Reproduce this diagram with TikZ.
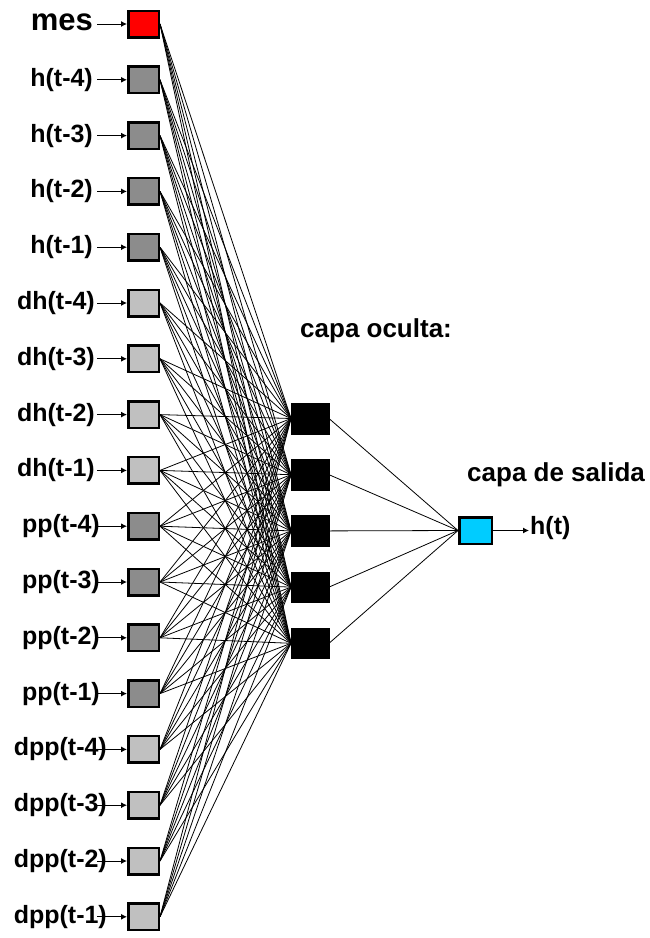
\documentclass[tikz,border=0pt]{standalone}
\usepackage{fontspec}
\setmainfont{Liberation Sans}
\usetikzlibrary{arrows.meta}
\definecolor{dgray}{HTML}{8C8C8C}
\definecolor{lgray}{HTML}{C0C0C0}
\definecolor{outcyan}{HTML}{00CCFF}
\tikzset{
  inbox/.style={draw=black, line width=2.5pt, minimum width=30.5pt, minimum height=26.5pt, inner sep=0pt},
  hidbox/.style={fill=black, draw=black, line width=0.5pt, minimum width=37.5pt, minimum height=30.5pt, inner sep=0pt},
  lab/.style={font=\bfseries\fontsize{25}{25}\selectfont, inner sep=0pt},
  feed/.style={-{Latex[length=6pt,width=6pt]}, line width=1pt},
  wire/.style={line width=0.8pt},
}
\begin{document}
\begin{tikzpicture}[x=1pt,y=-1pt]
\useasboundingbox (0,0) rectangle (650,938);
% input layer
\node[inbox, fill=red] (in0) at (143.5,24) {};
\node[lab, anchor=east, font=\bfseries\fontsize{31}{31}\selectfont] (l0) at (93,22) {mes};
\coordinate (s0) at (97,24);
\draw[feed] (s0) -- (in0.west);
\foreach \lab/\fc/\ex [count=\i from 1] in {
  h(t-4)/dgray/93, h(t-3)/dgray/93, h(t-2)/dgray/93, h(t-1)/dgray/93,
  dh(t-4)/lgray/95, dh(t-3)/lgray/95, dh(t-2)/lgray/95, dh(t-1)/lgray/95,
  pp(t-4)/dgray/100, pp(t-3)/dgray/100, pp(t-2)/dgray/100, pp(t-1)/dgray/100,
  dpp(t-4)/lgray/107, dpp(t-3)/lgray/107, dpp(t-2)/lgray/107, dpp(t-1)/lgray/107}{
  \pgfmathsetmacro{\yy}{24+55.8*\i}
  \node[inbox, fill=\fc] (in\i) at (143.5,\yy) {};
  \node[lab, anchor=east] (l\i) at (\ex,\yy) {\lab};
  \coordinate (s\i) at (97,\yy);
  \draw[feed] (s\i) -- (in\i.west);
}
% hidden layer
\foreach \j in {0,...,4}{
  \pgfmathsetmacro{\yy}{418.5+56.2*\j}
  \node[hidbox] (hid\j) at (310,\yy) {};
}
\node[lab, anchor=west, font=\bfseries\fontsize{26}{26}\selectfont] (capaoc) at (300,331) {capa oculta:};
% output layer
\node[inbox, fill=outcyan, minimum width=32.5pt] (out) at (475.5,530.5) {};
\node[lab, anchor=west, font=\bfseries\fontsize{26}{26}\selectfont] (capasal) at (467,475) {capa de salida};
\coordinate (oe) at (529,530.5);
\draw[feed] (out) -- (oe);
\node[lab, anchor=west] (ht) at (530,528) {h(t)};
% connections
\foreach \i in {0,...,16}{
  \foreach \j in {0,...,4}{
    \draw[wire] (in\i.east) -- (hid\j.west);
  }
}
\foreach \j in {0,...,4}{
  \draw[wire] (hid\j.east) -- (out.west);
}
\end{tikzpicture}
\end{document}
